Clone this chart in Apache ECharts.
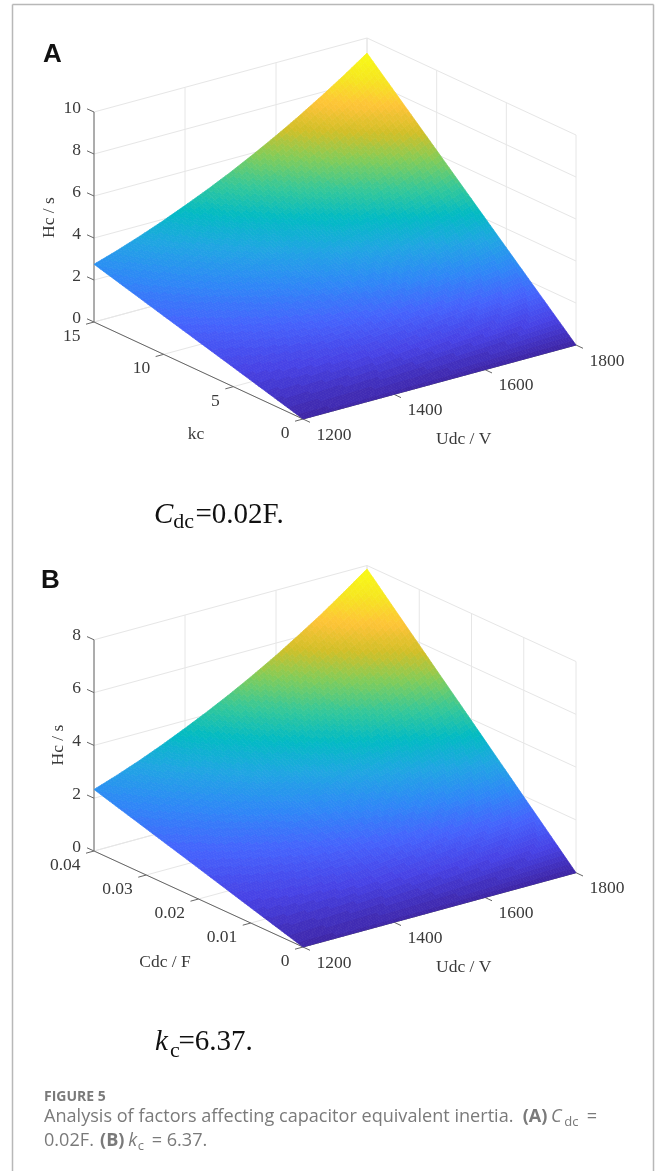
<!DOCTYPE html>
<html>
<head>
<meta charset="utf-8">
<style>html,body{margin:0;padding:0;background:#fff}#c{width:656px;height:1171px;filter:blur(0.4px)}</style>
<script src="https://cdn.jsdelivr.net/npm/echarts@6/dist/echarts.min.js"></script>
</head>
<body>
<div id="c"></div>
<script>
// ---- data ----
const udcValues = [1200,1250,1300,1350,1400,1450,1500,1550,1600,1650,1700,1750,1800];
const udcTicks = [1200,1400,1600,1800];

const kcValues = [0,5,10,15];
const kcTicks = [0,5,10,15];
const hcTicksA = [0,2,4,6,8,10];
const hcA_kc0  = [0,0,0,0,0,0,0,0,0,0,0,0,0];
const hcA_kc5  = [0.92,1.03,1.16,1.30,1.46,1.62,1.79,1.98,2.17,2.38,2.61,2.84,3.09];
const hcA_kc10 = [1.83,2.07,2.33,2.61,2.91,3.23,3.58,3.95,4.35,4.77,5.21,5.69,6.19];
const hcA_kc15 = [2.75,3.10,3.49,3.91,4.37,4.85,5.37,5.93,6.52,7.15,7.82,8.53,9.28];

const cdcValues = [0,0.01,0.02,0.03,0.04];
const cdcTickLabels = ['0','0.01','0.02','0.03','0.04'];
const hcTicksB = [0,2,4,6,8];
const hcB_c0   = [0,0,0,0,0,0,0,0,0,0,0,0,0];
const hcB_c01  = [0.58,0.66,0.74,0.83,0.93,1.03,1.14,1.26,1.38,1.52,1.66,1.81,1.97];
const hcB_c02  = [1.17,1.32,1.48,1.66,1.85,2.06,2.28,2.52,2.77,3.03,3.32,3.62,3.94];
const hcB_c03  = [1.75,1.97,2.22,2.49,2.78,3.09,3.42,3.78,4.15,4.55,4.98,5.43,5.90];
const hcB_c04  = [2.33,2.63,2.96,3.32,3.71,4.12,4.56,5.03,5.53,6.07,6.63,7.24,7.87];

// ---- projection of each panel onto the page ----
const panels = [
  {ys:[hcA_kc0,hcA_kc5,hcA_kc10,hcA_kc15], v:kcValues, vTicks:kcTicks, vLabels:kcTicks.map(String),
   hTicks:hcTicksA, x0:303, y0:419, ux:273, uy:-74, vx:-209, vy:-97, hs:21, hMax:10},
  {ys:[hcB_c0,hcB_c01,hcB_c02,hcB_c03,hcB_c04], v:cdcValues, vTicks:cdcValues, vLabels:cdcTickLabels,
   hTicks:hcTicksB, x0:303, y0:947, ux:273, uy:-74.3, vx:-209, vy:-96, hs:26.4, hMax:8}
];
const uMin = udcValues[0], uMax = udcValues[udcValues.length-1];
function project(p, u, v, h){
  const a = (u-uMin)/(uMax-uMin), b = v/p.v[p.v.length-1];
  return [p.x0+p.ux*a+p.vx*b, p.y0+p.uy*a+p.vy*b-p.hs*h];
}

// parula colour map, in 64 steps
const parula = [[62,38,168],[71,65,229],[69,99,253],[46,135,247],[32,165,227],[2,186,195],
  [55,200,151],[129,204,89],[209,191,39],[254,195,56],[246,230,32],[249,251,21]];
function colorOf(t){
  t = Math.max(0,Math.min(1,t));
  t = Math.round(t*63)/63;
  const s = t*(parula.length-1), i = Math.min(parula.length-2,Math.floor(s)), f = s-i;
  const c = parula[i].map((x,k)=>Math.round(x+(parula[i+1][k]-x)*f));
  return 'rgb('+c.join(',')+')';
}

// ---- marks built from the arrays ----
const gridSegs = [], axisSegs = [], labels = [];
panels.forEach(p=>{
  const vTop = p.v[p.v.length-1];
  const seg = (list,a,b)=>list.push([a[0],a[1],b[0],b[1]]);
  p.hTicks.forEach(h=>{
    seg(gridSegs,project(p,uMin,vTop,h),project(p,uMax,vTop,h));
    seg(gridSegs,project(p,uMax,vTop,h),project(p,uMax,0,h));
  });
  udcTicks.forEach(u=>{
    seg(gridSegs,project(p,u,vTop,0),project(p,u,vTop,p.hMax));
    seg(gridSegs,project(p,u,0,0),project(p,u,vTop,0));
  });
  p.vTicks.forEach(v=>{
    seg(gridSegs,project(p,uMax,v,0),project(p,uMax,v,p.hMax));
    seg(gridSegs,project(p,uMin,v,0),project(p,uMax,v,0));
  });
  // axes
  seg(axisSegs,project(p,uMin,vTop,0),project(p,uMin,vTop,p.hMax));
  seg(axisSegs,project(p,uMin,0,0),project(p,uMin,vTop,0));
  seg(axisSegs,project(p,uMin,0,0),project(p,uMax,0,0));
  p.hTicks.forEach(h=>{
    const a = project(p,uMin,vTop,h);
    seg(axisSegs,a,[a[0]-7,a[1]-3.2]);
    labels.push({x:a[0]-13,y:a[1]-4,t:String(h),al:'right'});
  });
  p.vTicks.forEach((v,i)=>{
    const a = project(p,uMin,v,0);
    seg(axisSegs,a,[a[0]-8,a[1]+2.2]);
    labels.push({x:a[0]-13.5,y:a[1]+14.5,t:p.vLabels[i],al:'right'});
  });
  udcTicks.forEach(u=>{
    const a = project(p,u,0,0);
    seg(axisSegs,a,[a[0]+7,a[1]+3.3]);
    labels.push({x:a[0]+13.5,y:a[1]+16,t:String(u),al:'left'});
  });
});
labels.push({x:49,y:217.5,t:'Hc / s',al:'center',rot:Math.PI/2});
labels.push({x:196,y:434,t:'kc',al:'center'});
labels.push({x:463.7,y:439,t:'Udc / V',al:'center'});
labels.push({x:58,y:745,t:'Hc / s',al:'center',rot:Math.PI/2});
labels.push({x:165,y:962.7,t:'Cdc / F',al:'center'});
labels.push({x:463.7,y:967.3,t:'Udc / V',al:'center'});

const cells = [];
panels.forEach((p,pi)=>{
  for(let r=0;r<p.ys.length-1;r++) for(let c=0;c<udcValues.length-1;c++) cells.push([pi,r,c]);
});

const SUB_U = 9, SUB_V = 22;
function renderCell(params, api){
  const p = panels[api.value(0)], r = api.value(1), c = api.value(2);
  const top = p.ys[p.ys.length-1], hTop = top[top.length-1];
  const h00=p.ys[r][c], h01=p.ys[r][c+1], h10=p.ys[r+1][c], h11=p.ys[r+1][c+1];
  const u0=udcValues[c], u1=udcValues[c+1], v0=p.v[r], v1=p.v[r+1];
  const subV = Math.round(SUB_V*3/(p.ys.length-1));
  const children = [];
  const at=(i,j)=>{
    const a=i/SUB_U,b=j/subV;
    const h=(h00*(1-a)+h01*a)*(1-b)+(h10*(1-a)+h11*a)*b;
    const q=project(p,u0+(u1-u0)*a,v0+(v1-v0)*b,h);
    return {pt:api.coord(q),h};
  };
  for(let i=0;i<SUB_U;i++) for(let j=0;j<subV;j++){
    const A=at(i,j),B=at(i+1,j),C=at(i+1,j+1),D=at(i,j+1);
    const col=colorOf((A.h+B.h+C.h+D.h)/4/hTop);
    children.push({type:'polygon',shape:{points:[A.pt,B.pt,C.pt,D.pt]},
      style:{fill:col,stroke:col,lineWidth:0.7}});
  }
  return {type:'group',children};
}
function renderSeg(color,width){
  return function(params,api){
    const a=api.coord([api.value(0),api.value(1)]),b=api.coord([api.value(2),api.value(3)]);
    return {type:'line',shape:{x1:a[0],y1:a[1],x2:b[0],y2:b[1]},style:{stroke:color,lineWidth:width}};
  };
}
const serif='"Liberation Serif","Times New Roman",serif';
function renderLabel(params,api){
  const l=labels[params.dataIndex], q=api.coord([l.x,l.y]);
  return {type:'text',x:q[0],y:q[1],rotation:l.rot||0,
    style:{text:l.t,font:'17.5px '+serif,fill:'#3a3a3a',textAlign:l.al,textVerticalAlign:'middle',verticalAlign:'middle'}};
}

// ---- page furniture ----
const sans='"Liberation Sans",Arial,sans-serif', body='"Open Sans",Lato,sans-serif';
const txt=(x,y,t,font,fill,extra)=>({type:'text',x,y,silent:true,
  style:Object.assign({text:t,font,fill,verticalAlign:'middle'},extra||{})});
const ln=(x1,y1,x2,y2)=>({type:'line',silent:true,shape:{x1,y1,x2,y2},style:{stroke:'#b8b8b8',lineWidth:1.5}});
const capC='#7a7a7a';
const graphics=[
  ln(12.5,4.5,653.5,4.5),ln(12.5,4.5,12.5,1171),ln(653.5,4.5,653.5,1171),
  txt(43,54.5,'A','bold 26px '+sans,'#111'),
  txt(41,581,'B','bold 26px '+sans,'#111'),
  txt(154,515,'C','italic 29px '+serif,'#111'),
  txt(173.3,522,'dc','22px '+serif,'#111'),
  txt(195.5,515,'=0.02F.','29px '+serif,'#111'),
  txt(155,1042,'k','italic 29px '+serif,'#111'),
  txt(170,1051,'c','22px '+serif,'#111'),
  txt(178.5,1042,'=6.37.','29px '+serif,'#111'),
  txt(44,1097,'FIGURE 5','bold 14px '+body,capC),
  txt(44,1117,'Analysis of factors affecting capacitor equivalent inertia.','18.1px '+body,capC),
  txt(522.7,1117,'(A)','bold 18.1px '+body,capC),
  txt(551,1117,'C','italic 18.1px '+body,capC),
  txt(564.3,1122,'dc','13px '+body,capC),
  txt(586.7,1117,'=','18.1px '+body,capC),
  txt(44,1141,'0.02F.','18.1px '+body,capC),
  txt(100,1141,'(B)','bold 18.1px '+body,capC),
  txt(128.3,1141,'k','italic 18.1px '+body,capC),
  txt(137.7,1146,'c','13px '+body,capC),
  txt(151.7,1141,'= 6.37.','18.1px '+body,capC)
];

const chart = echarts.init(document.getElementById('c'),null,{renderer:'canvas'});
chart.setOption({
  animation:false,
  backgroundColor:'#fff',
  tooltip:{show:false},
  grid:{left:0,right:0,top:0,bottom:0},
  xAxis:{type:'value',min:0,max:656,show:false},
  yAxis:{type:'value',min:0,max:1171,inverse:true,show:false},
  graphic:graphics,
  series:[
    {type:'custom',name:'grid',silent:true,coordinateSystem:'cartesian2d',data:gridSegs,renderItem:renderSeg('#e6e6e6',1),z:1,encode:{x:0,y:1}},
    {type:'custom',name:'axes',silent:true,coordinateSystem:'cartesian2d',data:axisSegs,renderItem:renderSeg('#666',1),z:2,encode:{x:0,y:1}},
    {type:'custom',name:'Hc surface',silent:true,coordinateSystem:'cartesian2d',data:cells,renderItem:renderCell,z:3,progressive:0},
    {type:'custom',name:'labels',silent:true,coordinateSystem:'cartesian2d',data:labels.map(l=>[l.x,l.y]),renderItem:renderLabel,z:4,encode:{x:0,y:1}}
  ]
});
</script>
</body>
</html>
